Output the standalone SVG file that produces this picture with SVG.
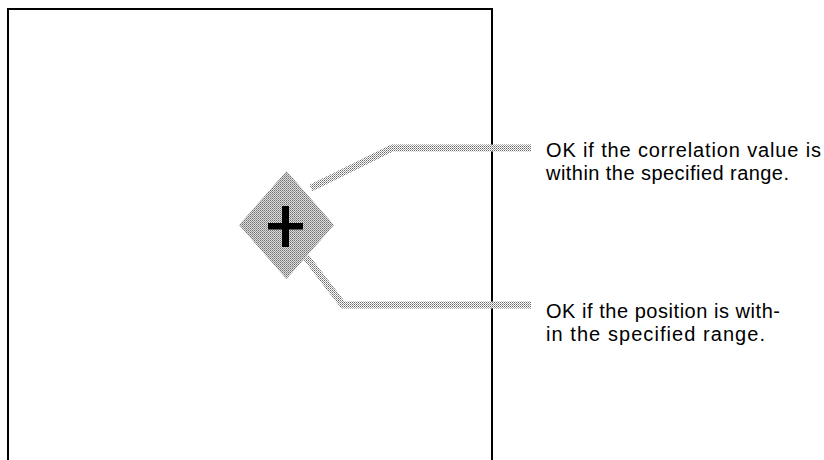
<svg xmlns="http://www.w3.org/2000/svg" width="824" height="460" viewBox="0 0 824 460">
  <defs>
    <!-- dithered grey fills -->
    <pattern id="ditherDark" patternUnits="userSpaceOnUse" width="2" height="2">
      <rect width="2" height="2" fill="#dcdcdc"/>
      <rect x="0" y="0" width="1" height="1" fill="#707070"/>
      <rect x="1" y="1" width="1" height="1" fill="#989898"/>
    </pattern>
    <pattern id="ditherLight" patternUnits="userSpaceOnUse" width="2" height="2">
      <rect width="2" height="2" fill="#fff"/>
      <rect x="0" y="0" width="1" height="1" fill="#6a6a6a"/>
      <rect x="1" y="1" width="1" height="1" fill="#a0a0a0"/>
    </pattern>
  </defs>
  <style>
    .frame { fill: none; stroke: #000; stroke-width: 2; }
    .leader { fill: none; stroke: url(#ditherLight); stroke-width: 7; stroke-linejoin: miter; }
    .label { font-family: "Liberation Sans", Arial, Helvetica, sans-serif; font-size: 20px; fill: #000; }
  </style>

  <rect width="824" height="460" fill="#fff"/>

  <!-- search window frame (open at the bottom) -->
  <g id="frame">
    <rect class="frame" x="8" y="9" width="484" height="470"/>
  </g>

  <!-- target mark -->
  <g id="target">
    <polygon points="286.5,171 334,225 286.5,279 239,225" fill="url(#ditherDark)"/>
    <rect x="268" y="223" width="35" height="6.5" fill="#000"/>
    <rect x="282" y="206" width="7" height="41" fill="#000"/>
  </g>

  <!-- leader lines -->
  <g id="connectors">
    <polyline class="leader" points="311,188 392,148 531,148"/>
    <polyline class="leader" points="306,257 343,305 531,305"/>
  </g>

  <g id="note-correlation">
    <text class="label" x="546" y="157" textLength="275" lengthAdjust="spacing">OK if the correlation value is</text>
    <text class="label" x="546" y="180" textLength="243" lengthAdjust="spacing">within the specified range.</text>
  </g>

  <g id="note-position">
    <text class="label" x="546" y="318" textLength="234" lengthAdjust="spacing">OK if the position is with-</text>
    <text class="label" x="546" y="341" textLength="219" lengthAdjust="spacing">in the specified range.</text>
  </g>
</svg>
